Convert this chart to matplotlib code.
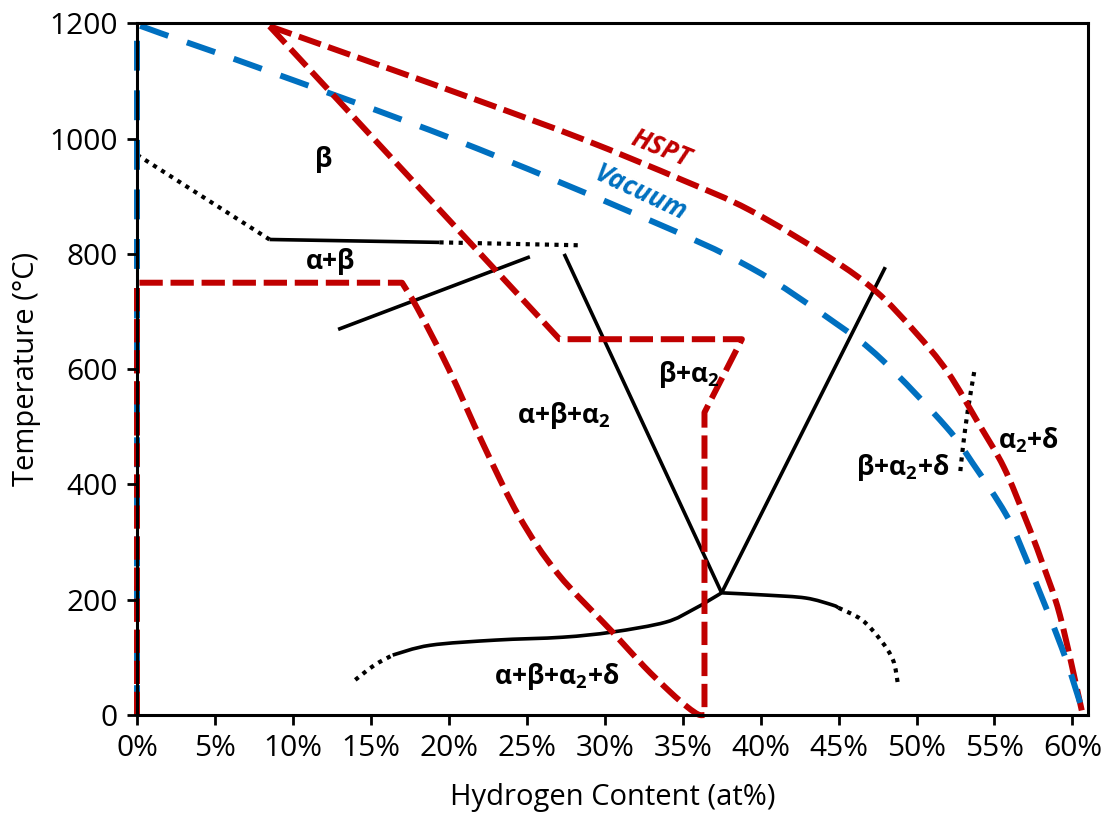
import matplotlib
matplotlib.use("Agg")
import numpy as np
import matplotlib.pyplot as plt
from matplotlib.path import Path
from matplotlib.patches import PathPatch
from matplotlib.ticker import PercentFormatter, MultipleLocator

plt.rcParams['font.family'] = ['Open Sans', 'DejaVu Sans']
plt.rcParams['mathtext.default'] = 'regular'

# hydrogen content (at%) and temperature (degC)
# HSPT outer boundary
hspt_outer_x = [8.5, 15.8, 22.0, 28.6, 35.0, 39.3, 44.4, 47.4, 49.9, 52.0, 54.0, 55.6, 57.0, 58.0, 59.2, 60.6]
hspt_outer_t = [1195, 1125, 1065, 999, 928, 876, 794, 735, 665, 595, 505, 430, 340, 269, 173, 8]

# HSPT inner boundary: 8.5% -> eutectoid plateau -> vertical at 36.4%
hspt_inner_x = [8.5, 27.1, 38.8, 36.4, 36.4]
hspt_inner_t = [1195, 652, 652, 525, 0]

# HSPT alpha boundary
hspt_alpha_x = [0, 0, 17.0, 18.0, 20.0, 22.2, 24.5, 27.0, 30.5, 32.5, 34.2, 35.3, 36.0, 36.4]
hspt_alpha_t = [0, 750, 750, 705, 600, 470, 345, 245, 144, 85, 40, 14, 1, 0]

# vacuum line
vac_x = [0, 0, 1.5, 7.7, 20.3, 32.4, 39.3, 44.8, 47.8, 51.9, 53.6, 55.7, 56.8, 59.3, 60.6]
vac_t = [0, 1198, 1183, 1124, 999, 864, 777, 680, 616, 500, 437, 350, 286, 118, 12]

# black equilibrium lines
beta_dot_x = [0, 8.5]
beta_dot_t = [972, 825]
beta_sol_x = [8.5, 19.4]
beta_sol_t = [825, 820]
beta_ext_x = [19.4, 28.3]
beta_ext_t = [820, 815]
ab_line_x = [12.9, 25.2]
ab_line_t = [669, 795]
left_v_x = [27.4, 37.5]
left_v_t = [800, 212]
right_v_x = [37.5, 48.0]
right_v_t = [212, 777]
delta_x = [16.4, 18.8, 23.0, 27.3, 30.5, 33.9, 35.6, 36.7, 37.5, 40.4, 42.9, 44.6, 45.0]
delta_t = [104, 121, 130, 135, 144, 161, 182, 199, 212, 208, 203, 191, 186]
delta_left_x = [14.0, 15.2, 16.4]
delta_left_t = [61, 86, 104]
delta_right_x = [45.0, 46.5, 47.7, 48.5, 48.8]
delta_right_t = [186, 165, 130, 95, 55]
a2d_x = [53.7, 53.3, 53.0, 52.8]
a2d_t = [595, 530, 470, 420]

labels = ['β', 'α+β', 'α+β+α$_2$', 'β+α$_2$', 'β+α$_2$+δ', 'α$_2$+δ', 'α+β+α$_2$+δ']
label_x = [12.0, 12.4, 27.4, 35.4, 49.1, 57.2, 26.9]
label_t = [963, 786, 520, 590, 430, 477, 66]

red = '#C00000'
blue = '#0070C0'


def smooth_line(ax, x, t, corners=(), **style):
    # Excel-style smoothed line: bezier through the points, sharp at corners
    pts = np.column_stack([x, t]).astype(float)
    cut = sorted(set([0, len(pts) - 1] + list(corners)))
    verts, codes = [pts[0]], [Path.MOVETO]
    for a, b in zip(cut[:-1], cut[1:]):
        seg = pts[a:b + 1]
        n = len(seg)
        for i in range(n - 1):
            p0 = seg[i - 1] if i > 0 else seg[i]
            p1, p2 = seg[i], seg[i + 1]
            p3 = seg[i + 2] if i + 2 < n else seg[i + 1]
            verts += [p1 + (p2 - p0) / 6, p2 - (p3 - p1) / 6, p2]
            codes += [Path.CURVE4] * 3
    patch = PathPatch(Path(verts, codes), fill=False, capstyle='butt',
                      joinstyle='round', clip_on=False, **style)
    ax.add_patch(patch)


fig = plt.figure(figsize=(11.04, 8.13), dpi=100)
ax = fig.add_axes([0.1241, 0.1205, 0.8614, 0.8508])

solid = dict(edgecolor='black', lw=2.6, ls='-')
dot = dict(edgecolor='black', lw=3.0, ls=(0, (1, 1.3)))
smooth_line(ax, beta_dot_x, beta_dot_t, **dot)
smooth_line(ax, beta_sol_x, beta_sol_t, **solid)
smooth_line(ax, beta_ext_x, beta_ext_t, **dot)
smooth_line(ax, ab_line_x, ab_line_t, **solid)
smooth_line(ax, left_v_x, left_v_t, **solid)
smooth_line(ax, right_v_x, right_v_t, **solid)
smooth_line(ax, delta_x, delta_t, corners=[8], **solid)
smooth_line(ax, delta_left_x, delta_left_t, **dot)
smooth_line(ax, delta_right_x, delta_right_t, **dot)
smooth_line(ax, a2d_x, a2d_t, **dot)

rdash = dict(edgecolor=red, lw=4.3, ls=(0, (3.9, 1.3)))
smooth_line(ax, hspt_outer_x, hspt_outer_t, **rdash)
smooth_line(ax, vac_x, vac_t, corners=[1], edgecolor=blue, lw=4.3, ls=(0, (5, 3.3)))
smooth_line(ax, hspt_inner_x, hspt_inner_t, corners=[1, 2, 3], **rdash)
smooth_line(ax, hspt_alpha_x, hspt_alpha_t, corners=[1, 2], **rdash)

for s, x, t in zip(labels, label_x, label_t):
    ax.text(x, t, s, fontsize=19, fontweight='bold', ha='center', va='center')

ax.text(33.6, 983, 'HSPT', color=red, fontsize=19, fontweight='bold', style='italic',
        rotation=-22, ha='center', va='center')
ax.text(32.3, 905, 'Vacuum', color=blue, fontsize=19, fontweight='bold', style='italic',
        rotation=-25, ha='center', va='center')

ax.set_xlim(0, 61)
ax.set_ylim(0, 1200)
ax.xaxis.set_major_locator(MultipleLocator(5))
ax.yaxis.set_major_locator(MultipleLocator(200))
ax.xaxis.set_major_formatter(PercentFormatter(decimals=0))
ax.tick_params(direction='out', length=7, width=2, labelsize=21.5, pad=7)
for sp in ax.spines.values():
    sp.set_linewidth(2.2)
ax.set_xlabel('Hydrogen Content (at%)', fontsize=21, labelpad=14)
ax.set_ylabel('Temperature (°C)', fontsize=21, labelpad=6)

fig.savefig('out.png', dpi=100)
